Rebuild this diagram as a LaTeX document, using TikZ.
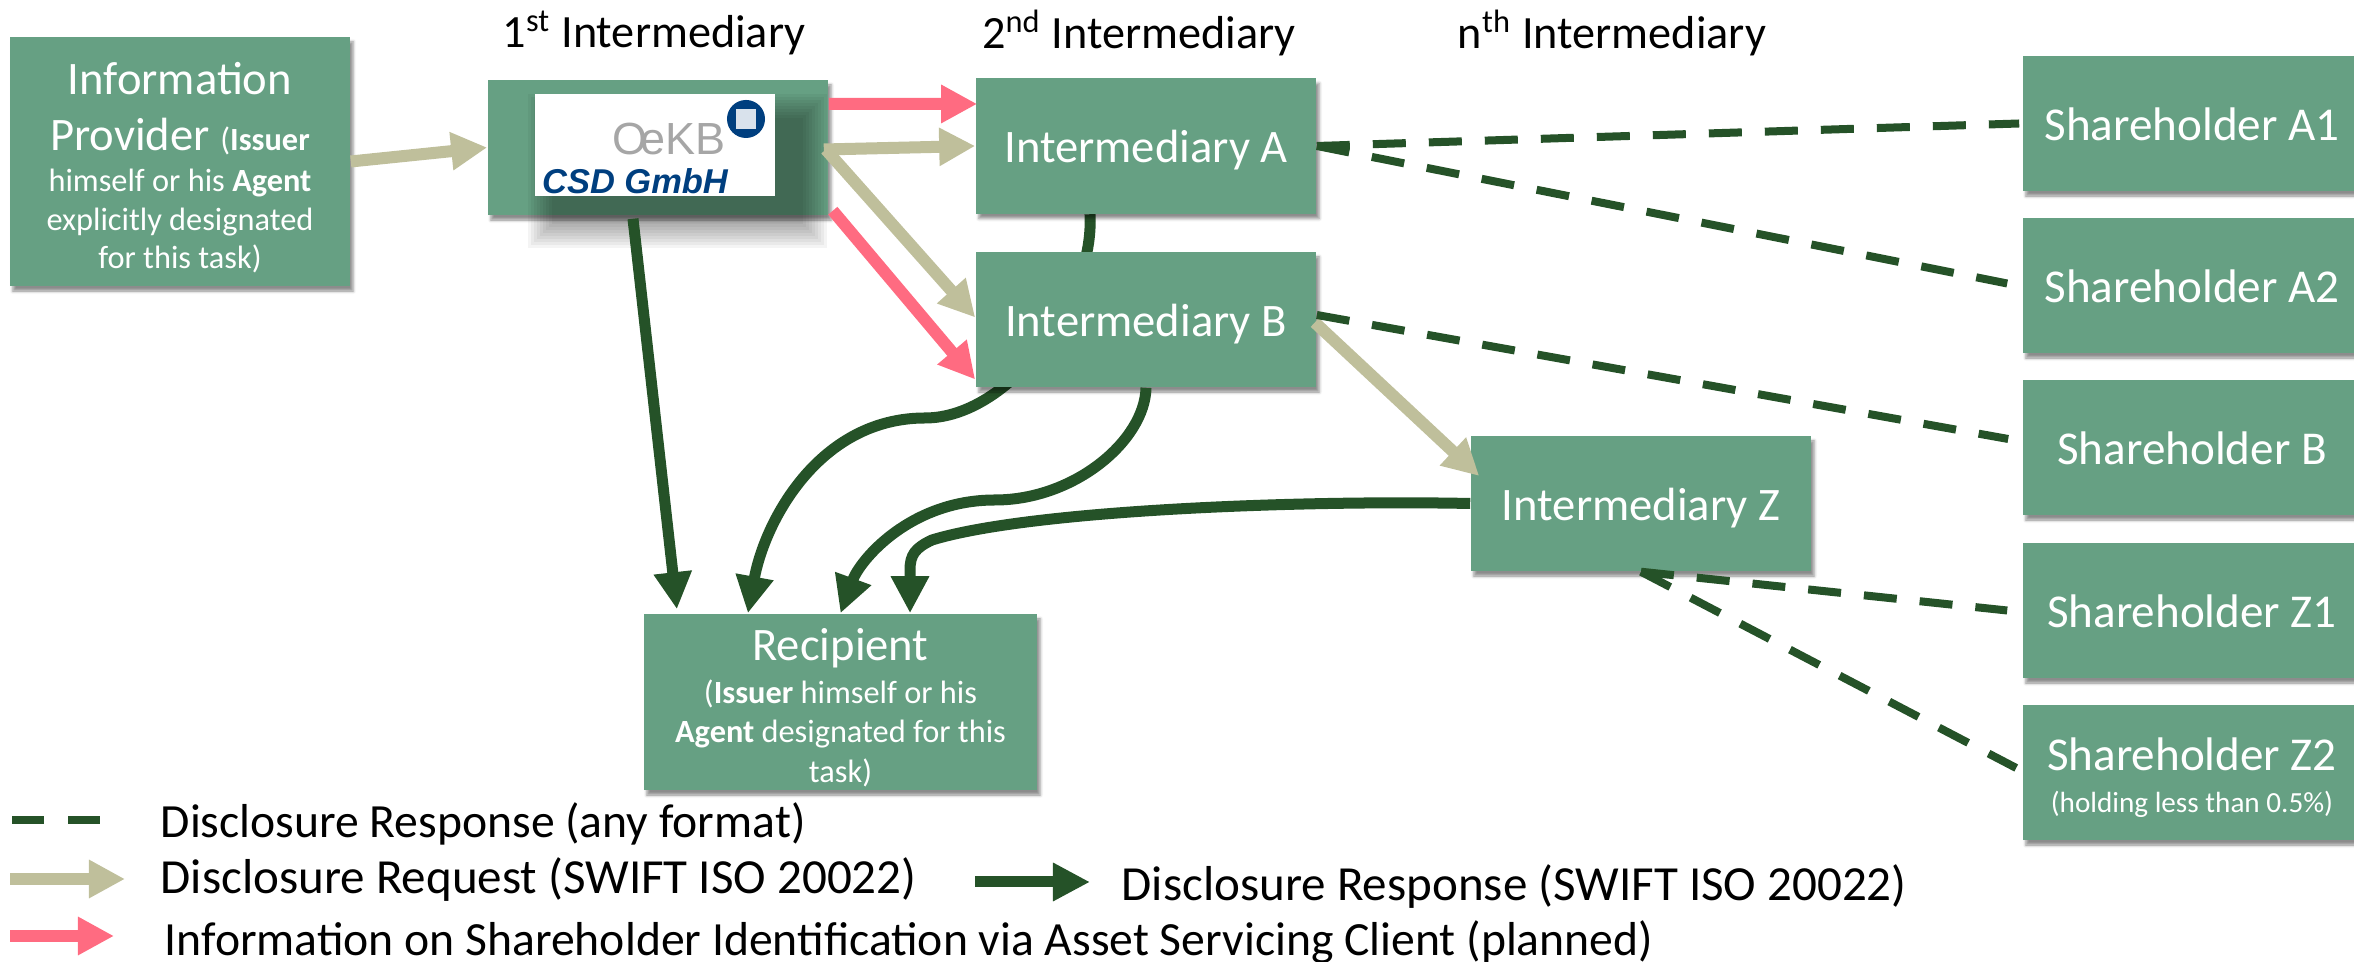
\documentclass[tikz,border=0pt]{standalone}
\usepackage{fontspec}
\setmainfont{Carlito}
\newfontfamily\logofont{Liberation Sans}
\usetikzlibrary{arrows.meta, positioning, backgrounds, calc, shadows.blur}
\definecolor{boxgreen}{HTML}{66A083}
\definecolor{reqtan}{HTML}{BFBF9B}
\definecolor{infopink}{HTML}{FF6B81}
\definecolor{respdark}{HTML}{255228}
\definecolor{logoblue}{HTML}{003F7F}
\newcommand{\bigtxt}{\fontsize{13.25}{16}\selectfont}
\newcommand{\holdertxt}{\fontsize{13.4}{16}\selectfont}
\newcommand{\headtxt}{\fontsize{13.15}{16}\selectfont}
\newcommand{\legendtxt}{\fontsize{13.55}{16}\selectfont}
\newcommand{\swifttxt}{\fontsize{13.95}{16}\selectfont}
\newcommand{\smalltxt}{\fontsize{9.2}{11}\selectfont}
\newcommand{\tinytxt}{\fontsize{8.3}{10}\selectfont}
\tikzstyle{box} = [fill=boxgreen, text=white, inner sep=0pt, align=center, font=\bigtxt,
  blur shadow={shadow xshift=.03cm, shadow yshift=-.05cm, shadow blur radius=.03cm, shadow opacity=45}]
\tikzstyle{midbox} = [box, minimum width=3.4cm, minimum height=1.35cm, text height=.34cm, text depth=0cm]
\tikzstyle{holder} = [midbox, minimum width=3.38cm, font=\holdertxt]
\tikzstyle{label} = [font=\headtxt, text=black, inner sep=0pt]
\tikzstyle{legend} = [label, anchor=west, font=\legendtxt]
\tikzstyle{reqarrow} = [reqtan, line width=.12cm, -{Triangle[length=.36cm,width=.36cm]}]
\tikzstyle{infoarrow} = [infopink, line width=.12cm, -{Triangle[length=.36cm,width=.36cm]}]
\tikzstyle{resparrow} = [respdark, line width=.11cm, -{Triangle[length=.37cm,width=.36cm]}]
\tikzstyle{respdash} = [respdark, line width=.08cm, dash pattern=on .33cm off .23cm]

\begin{document}
\begin{tikzpicture}[x=.01cm, y=-.01cm]
\useasboundingbox (0,0) rectangle (2354,962);

% Column headings
\node[label] (first) at (654,33) {1\textsuperscript{st} Intermediary};
\node[label] (second) at (1139,33) {2\textsuperscript{nd} Intermediary};
\node[label] (nth) at (1612,33) {n\textsuperscript{th} Intermediary};

% Provider and first intermediary
\node[box, minimum width=3.4cm, minimum height=2.49cm, text height=2.13cm, text depth=0cm] (ip) at (180,161.5)
  {Information\\ Provider {\smalltxt (\textbf{Issuer}}\\[-.15cm]
  \smalltxt himself or his \textbf{Agent}\\[-.17cm] \smalltxt explicitly designated\\[-.19cm] \smalltxt for this task)};
\node[midbox] (cb) at (658,147.5) {};

% Shadow behind the logo
\foreach \d in {0,3,...,24}
  \fill[black, opacity=.045] (552-\d,118-\d) rectangle (803+\d,224+\d);

\node[fill=white, minimum width=2.4cm, minimum height=1.02cm, inner sep=0pt] (logo) at (655,145) {};
\node[font=\logofont\fontsize{12.8}{13}\selectfont, text=black!35, inner sep=0pt, anchor=base] (logoname) at (669,155) {O\kern-2pt eKB};
\node[circle, fill=logoblue, minimum size=.38cm, inner sep=0pt] (logomark) at (746,119) {};
\node[fill=white!85!logoblue, minimum size=.2cm, inner sep=0pt] (logosquare) at (746,119) {};
\node[font=\logofont\fontsize{9.8}{10}\selectfont\bfseries\itshape, text=logoblue, inner sep=0pt, anchor=base] (logocsd) at (635,194) {CSD GmbH};

% Intermediaries
\node[midbox] (ia) at (1146,146) {Intermediary A};
\node[midbox] (ib) at (1146,319.5) {Intermediary B};
\node[midbox] (iz) at (1641,503.5) {Intermediary Z};

% Recipient
\node[box, minimum width=3.93cm, minimum height=1.76cm, text height=1.6cm, text depth=0cm] (rc) at (840.5,702)
  {Recipient\\[-.13cm] \smalltxt (\textbf{Issuer} himself or his\\[-.17cm] \smalltxt \textbf{Agent} designated for this\\[-.17cm] \smalltxt task)};

% Shareholders
\node[holder] (sa1) at (2192,123.5) {Shareholder A1};
\node[holder] (sa2) at (2192,285.5) {Shareholder A2};
\node[holder] (sb) at (2192,447.5) {Shareholder B};
\node[holder] (sz1) at (2192,610.5) {Shareholder Z1};
\node[holder, text height=.79cm] (sz2) at (2192,772.5) {Shareholder Z2\\[-.15cm] \tinytxt (holding less than 0.5\%)};

% Curves passing under the boxes
\begin{scope}[on background layer]
\draw[resparrow] ([xshift=-.56cm]ia.south) .. controls (1095,300) and (1010,418) .. (925,418)
  .. controls (820,418) and (765,520) .. ([xshift=-.925cm]rc.north);
\end{scope}
\draw[resparrow] (ib.south) .. controls (1145,440) and (1075,500) .. (995,500)
  .. controls (910,500) and (860,560) .. (rc.north);
\draw[resparrow] (iz.west) .. controls (1300,500) and (1030,510) .. (932,540)
  .. controls (915,548) and (910,555) .. (910,570) -- ([xshift=.695cm]rc.north);

% Arrows
\draw[reqarrow] (ip.east) -- (cb.west);
\draw[infoarrow] ([yshift=.435cm]cb.east) -- ([yshift=.42cm,xshift=.02cm]ia.west);
\draw[reqarrow] ([xshift=-.05cm,yshift=-.02cm]cb.east) -- (ia.west);
\draw[reqarrow] ([xshift=-.03cm,yshift=-.02cm]cb.east) -- ([yshift=.02cm]ib.west);
\draw[infoarrow] ([xshift=.04cm,yshift=.05cm]cb.south east) -- ([yshift=-.6cm]ib.west);
\draw[resparrow] ([xshift=-.25cm,yshift=-.03cm]cb.south) -- ([xshift=-1.635cm,yshift=.04cm]rc.north);
\draw[reqarrow] ([xshift=-.02cm,yshift=-.03cm]ib.east) -- ([xshift=.09cm,yshift=.275cm]iz.west);

% Dashed responses
\draw[respdash] (ia.east) -- ([xshift=-.03cm]sa1.west);
\draw[respdash] (ia.east) -- ([xshift=-.15cm,yshift=.02cm]sa2.west);
\draw[respdash] ([yshift=.045cm]ib.east) -- ([xshift=-.14cm,yshift=.085cm]sb.west);
\draw[respdash] (iz.south) -- ([xshift=-.15cm]sz1.west);
\draw[respdash] (iz.south) -- ([xshift=-.06cm,yshift=.045cm]sz2.west);

% Legend
\coordinate (dashstart) at (12,820);
\coordinate (dashend) at (100,820);
\coordinate (reqstart) at (10,879);
\coordinate (reqend) at (125,879);
\coordinate (respstart) at (975,882);
\coordinate (respend) at (1090,882);
\coordinate (infostart) at (10,936);
\coordinate (infoend) at (114,936);
\draw[respdark, line width=.08cm, dash pattern=on .32cm off .24cm] (dashstart) -- (dashend);
\draw[reqarrow] (reqstart) -- (reqend);
\draw[resparrow] (respstart) -- (respend);
\draw[infoarrow] (infostart) -- (infoend);
\node[legend] (l1) at (160,824) {Disclosure Response (any format)};
\node[legend, font=\swifttxt] (l2) at (160,880) {Disclosure Request (SWIFT ISO 20022)};
\node[legend, font=\swifttxt] (l3) at (1121,887) {Disclosure Response (SWIFT ISO 20022)};
\node[legend] (l4) at (164,942) {Information on Shareholder Identification via Asset Servicing Client (planned)};
\end{tikzpicture}
\end{document}
